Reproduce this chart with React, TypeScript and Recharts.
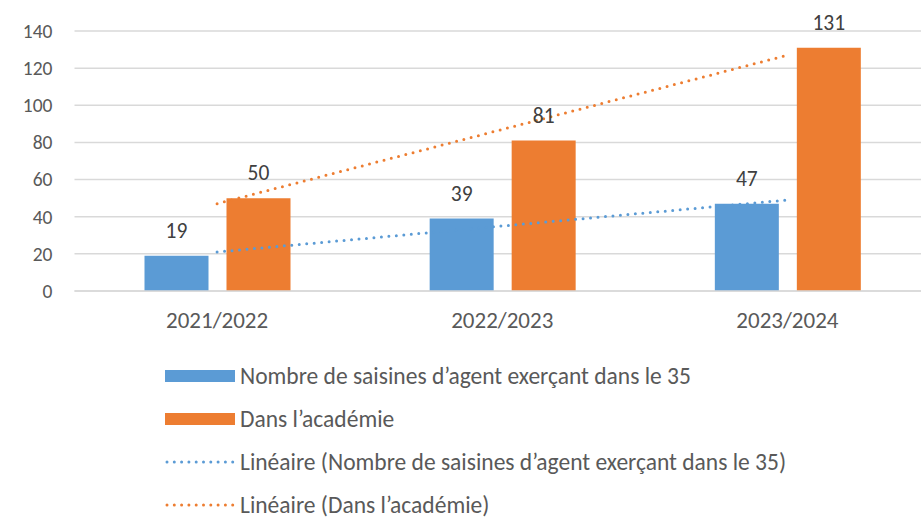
import { ComposedChart, Bar, Line, XAxis, YAxis, CartesianGrid, LabelList } from 'recharts';

// categories and values
const years = ['2021/2022', '2022/2023', '2023/2024'];
const saisines35 = [19, 39, 47];
const academie = [50, 81, 131];
// linear trend lines
const trend35 = [21, 35, 49];
const trendAcademie = [47, 87, 127];
const yTicks = [0, 20, 40, 60, 80, 100, 120, 140];

const BLUE = '#5B9BD5';
const ORANGE = '#ED7D31';
const FONT = 'Calibri, Carlito, Lato, sans-serif';

const data = years.map((name, i) => ({
    name,
    s35: saisines35[i],
    acad: academie[i],
    t35: trend35[i],
    tAcad: trendAcademie[i],
}));

const legendItems = [
    { label: 'Nombre de saisines d’agent exerçant dans le 35', color: BLUE, kind: 'bar' },
    { label: 'Dans l’académie', color: ORANGE, kind: 'bar' },
    { label: 'Linéaire (Nombre de saisines d’agent exerçant dans le 35)', color: BLUE, kind: 'line' },
    { label: 'Linéaire (Dans l’académie)', color: ORANGE, kind: 'line' },
];

const LegendBlock = () => (
    <div style={{ position: 'absolute', left: 165, top: 354, fontFamily: FONT, fontSize: 23.5, lineHeight: '28px', color: '#595959' }}>
        {legendItems.map((item) => (
            <div key={item.label} style={{ display: 'flex', alignItems: 'center', height: 43 }}>
                <svg width={72} height={14} style={{ marginRight: 3 }}>
                    {item.kind === 'bar' ? (
                        <rect x={0} y={1} width={70} height={12} fill={item.color} />
                    ) : (
                        <line
                            x1={2}
                            y1={7}
                            x2={68}
                            y2={7}
                            stroke={item.color}
                            strokeWidth={3}
                            strokeDasharray="0 7.3"
                            strokeLinecap="round"
                        />
                    )}
                </svg>
                <span>{item.label}</span>
            </div>
        ))}
    </div>
);

export default function App() {
    return (
        <div style={{ position: 'absolute', left: 0, top: 0, width: 921, height: 520, overflow: 'hidden', background: '#fff' }}>
            <ComposedChart
                width={930}
                height={520}
                data={data}
                margin={{ top: 31, right: 0, bottom: 199, left: 0 }}
                barSize={64}
                barGap={18}
            >
                <CartesianGrid vertical={false} stroke="#d9d9d9" strokeWidth={1.5} />
                <XAxis
                    dataKey="name"
                    height={30}
                    axisLine={{ stroke: '#d9d9d9', strokeWidth: 1.5 }}
                    tickLine={false}
                    tickMargin={15}
                    tick={{ fill: '#595959', fontSize: 23, fontFamily: FONT }}
                />
                <YAxis
                    width={74.5}
                    domain={[0, 140]}
                    ticks={yTicks}
                    axisLine={false}
                    tickLine={false}
                    tickMargin={16}
                    tick={{ fill: '#595959', fontSize: 19.5, fontFamily: FONT }}
                />
                <Bar dataKey="s35" fill={BLUE} isAnimationActive={false}>
                    <LabelList dataKey="s35" position="top" offset={18} fill="#404040" fontSize={21.5} fontFamily={FONT} />
                </Bar>
                <Bar dataKey="acad" fill={ORANGE} isAnimationActive={false}>
                    <LabelList dataKey="acad" position="top" offset={18} fill="#404040" fontSize={21.5} fontFamily={FONT} />
                </Bar>
                <Line
                    type="linear"
                    dataKey="t35"
                    stroke={BLUE}
                    strokeWidth={3}
                    strokeDasharray="0 7.5"
                    strokeLinecap="round"
                    dot={false}
                    activeDot={false}
                    isAnimationActive={false}
                />
                <Line
                    type="linear"
                    dataKey="tAcad"
                    stroke={ORANGE}
                    strokeWidth={3}
                    strokeDasharray="0 7.5"
                    strokeLinecap="round"
                    dot={false}
                    activeDot={false}
                    isAnimationActive={false}
                />
            </ComposedChart>
            <LegendBlock />
        </div>
    );
}
